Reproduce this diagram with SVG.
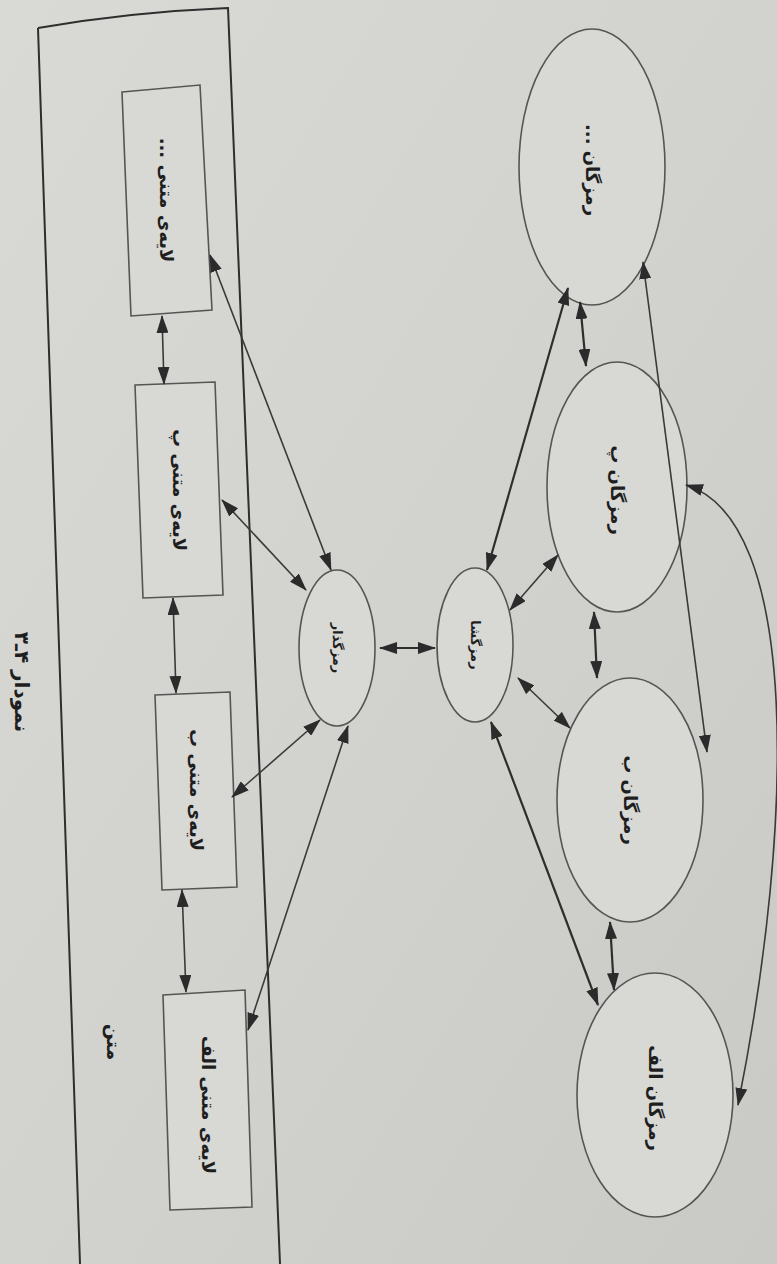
<svg xmlns="http://www.w3.org/2000/svg" width="777" height="1264" viewBox="0 0 777 1264">
<defs>
<linearGradient id="bg" x1="0" y1="0" x2="1" y2="1">
<stop offset="0" stop-color="#d9d9d6"/>
<stop offset="0.5" stop-color="#d2d2cf"/>
<stop offset="1" stop-color="#c9c9c6"/>
</linearGradient>
<marker id="ah" viewBox="0 0 18 12" refX="17" refY="6" markerWidth="18" markerHeight="12" markerUnits="userSpaceOnUse" orient="auto-start-reverse">
<path d="M0,0 L18,6 L0,12 Z" fill="#2b2b2b"/>
</marker>
<style>
.box{fill:#d8d8d5;stroke:#555;stroke-width:1.6}
.el{fill:#d8d8d5;stroke:#555;stroke-width:1.6}
.frame{fill:none;stroke:#2e2e2e;stroke-width:2}
.c{fill:none;stroke:#3a3a3a;stroke-width:1.6;marker-start:url(#ah);marker-end:url(#ah)}
.c2{fill:none;stroke:#2e2e2e;stroke-width:2.2;marker-start:url(#ah);marker-end:url(#ah)}
.t{font-family:"DejaVu Sans","Noto Sans",sans-serif;font-size:18px;font-weight:bold;fill:#1e1e1e;text-anchor:middle;dominant-baseline:central;direction:rtl}
.ts{font-size:13px}
.tb{font-size:19px}
.tt{font-size:20px}
</style>
</defs>
<rect width="777" height="1264" fill="url(#bg)"/>

<g id="frame">
<path class="frame" d="M38,28 Q130,12 228,8 L280,1264 M38,28 L80,1264"/>
</g>

<g id="title"><text class="t tt" transform="translate(22,682) rotate(90)">نمودار ۴ـ۳</text></g>
<g id="matn"><text class="t tb" transform="translate(114,1042) rotate(90)">متن</text></g>

<g id="layer-etc">
<polygon class="box" points="122,92 200,85 212,310 131,316"/>
<text class="t" transform="translate(166,200) rotate(90)">لایه‌ی متنی ...</text>
</g>
<g id="layer-p">
<polygon class="box" points="135,385 215,382 223,595 143,598"/>
<text class="t" transform="translate(179,490) rotate(90)">لایه‌ی متنی پ</text>
</g>
<g id="layer-b">
<polygon class="box" points="155,695 230,692 237,887 162,890"/>
<text class="t" transform="translate(196,790) rotate(90)">لایه‌ی متنی ب</text>
</g>
<g id="layer-alef">
<polygon class="box" points="163,995 245,990 252,1207 170,1210"/>
<text class="t" transform="translate(208,1105) rotate(90)">لایه‌ی متنی الف</text>
</g>

<g id="encoder">
<ellipse class="el" cx="337" cy="648" rx="38" ry="78"/>
<text class="t ts" transform="translate(337,648) rotate(90)">رمزگذار</text>
</g>
<g id="decoder">
<ellipse class="el" cx="475" cy="645" rx="38" ry="77"/>
<text class="t ts" transform="translate(475,645) rotate(90)">رمزگشا</text>
</g>

<g id="code-etc">
<ellipse class="el" cx="592" cy="167" rx="73" ry="138"/>
<text class="t" transform="translate(592,170) rotate(90)">رمزگان ...</text>
</g>
<g id="code-p">
<ellipse class="el" cx="617" cy="487" rx="70" ry="125"/>
<text class="t" transform="translate(617,490) rotate(90)">رمزگان پ</text>
</g>
<g id="code-b">
<ellipse class="el" cx="630" cy="800" rx="73" ry="122"/>
<text class="t" transform="translate(630,800) rotate(90)">رمزگان ب</text>
</g>
<g id="code-alef">
<ellipse class="el" cx="655" cy="1095" rx="78" ry="122"/>
<text class="t" transform="translate(655,1098) rotate(90)">رمزگان الف</text>
</g>

<g id="connectors">
<line class="c" x1="162" y1="316" x2="164" y2="384"/>
<line class="c" x1="173" y1="598" x2="176" y2="693"/>
<line class="c" x1="182" y1="890" x2="186" y2="992"/>
<line class="c" x1="210" y1="255" x2="331" y2="570"/>
<line class="c" x1="222" y1="500" x2="306" y2="590"/>
<line class="c" x1="232" y1="797" x2="320" y2="720"/>
<line class="c" x1="248" y1="1030" x2="348" y2="726"/>
<line class="c2" x1="380" y1="648" x2="435" y2="648"/>
<line class="c2" x1="487" y1="570" x2="568" y2="288"/>
<line class="c" x1="510" y1="610" x2="558" y2="555"/>
<line class="c" x1="518" y1="678" x2="570" y2="728"/>
<line class="c2" x1="491" y1="722" x2="598" y2="1005"/>
<line class="c2" x1="580" y1="302" x2="586" y2="366"/>
<line class="c2" x1="594" y1="612" x2="597" y2="678"/>
<line class="c2" x1="610" y1="922" x2="614" y2="990"/>
<line class="c" x1="643" y1="262" x2="707" y2="752"/>
<path class="c" d="M686,485 C800,520 795,820 738,1105"/>
</g>
</svg>
